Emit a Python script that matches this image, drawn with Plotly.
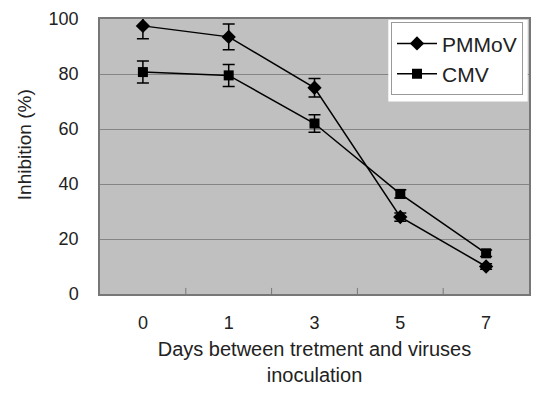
import plotly.graph_objects as go

days = ["0", "1", "3", "5", "7"]
pmmov = [97.5, 93.5, 75.0, 28.0, 10.0]
pmmov_err = [4.7, 4.7, 3.4, 1.5, 1.0]
cmv = [80.7, 79.5, 62.0, 36.4, 14.8]
cmv_err = [4.0, 4.0, 3.2, 1.5, 1.2]

fig = go.Figure()
fig.add_trace(go.Scatter(
    x=days, y=pmmov, name="PMMoV", mode="lines+markers",
    line=dict(color="black", width=1.5),
    marker=dict(symbol="diamond", size=11, color="black"),
    error_y=dict(type="data", array=pmmov_err, color="black", thickness=1.5, width=6),
))
fig.add_trace(go.Scatter(
    x=days, y=cmv, name="CMV", mode="lines+markers",
    line=dict(color="black", width=1.5),
    marker=dict(symbol="square", size=10, color="black"),
    error_y=dict(type="data", array=cmv_err, color="black", thickness=1.5, width=6),
))

font = "Liberation Sans, Arial, sans-serif"
fig.update_layout(
    width=524, height=378,
    margin=dict(l=92, r=1, t=7, b=91),
    plot_bgcolor="#C0C0C0", paper_bgcolor="white",
    font=dict(family=font, size=18, color="#222"),
    showlegend=True,
    legend=dict(
        x=0.986, y=0.988, xanchor="right", yanchor="top",
        bgcolor="white", bordercolor="#999", borderwidth=1,
        font=dict(size=21), tracegroupgap=0,
        itemwidth=40, entrywidth=82, entrywidthmode="pixels",
    ),
    xaxis=dict(
        type="category", range=[-0.5, 4.5],
        showgrid=False, showline=True, linecolor="#777", linewidth=1.5, mirror=True,
        ticks="", ticklabelstandoff=12, tickfont=dict(size=18),
        title=dict(text="Days between tretment and viruses<br>inoculation", font=dict(size=20), standoff=12),
        zeroline=False,
    ),
    yaxis=dict(
        range=[0, 100], dtick=20,
        showgrid=True, gridcolor="#858585", gridwidth=1,
        showline=True, linecolor="#777", linewidth=1.5, mirror=True,
        ticks="", ticklabelstandoff=16, tickfont=dict(size=18),
        ticklabeloverflow="allow",
        zeroline=False,
    ),
    annotations=[dict(
        text="Inhibition (%)", textangle=-90, xref="paper", yref="paper",
        x=-0.176, y=0.543, xanchor="center", yanchor="middle", showarrow=False,
        font=dict(size=19, family=font, color="#222"),
    )],
)

# white frame behind legend
fig.add_shape(type="rect", xref="paper", yref="paper", x0=0.672, x1=0.997, y0=0.70, y1=0.997,
              fillcolor="white", line=dict(width=0), layer="above")

# boundary tick marks at category edges (inside, bottom)
for b in [0.5, 1.5, 2.5, 3.5]:
    fig.add_shape(type="line", xref="x", yref="paper", x0=b, x1=b, y0=0, y1=0.022,
                  line=dict(color="#777", width=1))

fig.write_html("out.html")
